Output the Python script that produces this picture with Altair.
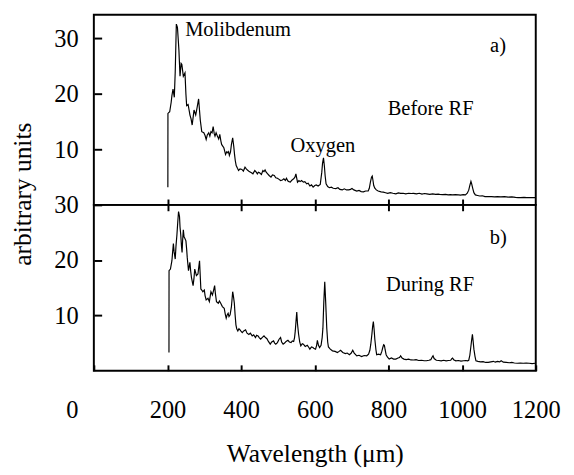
import altair as alt
import pandas as pd

# ---- data ----
xa = [201, 201.2, 206, 210, 212, 215, 218.5, 221, 224, 227, 229, 231, 234, 237, 239, 243, 247.5, 250, 252, 256,
      261, 264, 267, 270, 272, 276.6, 280, 284.5, 289, 293, 298.6, 302, 305, 308, 312, 315, 318, 321, 324, 327,
      329, 332, 335.5, 339, 342, 345, 347, 350, 353, 355, 357.6, 361, 364, 366, 368, 371, 373.6, 377, 380, 382,
      384, 386.5, 390, 393, 397, 402, 406, 410.5, 414, 417, 422, 428, 432, 437, 441, 444, 447, 450, 455, 459,
      462, 465, 468, 472, 476, 481, 485, 490, 494, 498.5, 503, 507, 512, 516, 520, 523, 527, 530, 533.7, 537,
      540, 542.6, 546, 548.7, 551, 553, 557, 560, 564, 569, 573, 578, 582, 586.6, 591, 595.4, 600, 604, 609, 614.8,
      619, 621, 623.6, 626, 628, 630.6, 635, 639.5, 645, 650, 657, 663, 668, 674.7, 680, 686, 692, 697, 701, 706,
      714, 720, 726, 732, 738, 745, 748, 751, 754, 756, 758, 760, 763, 767, 772, 780, 786, 792, 798, 805,
      812, 820, 827, 833, 840, 847, 855, 862, 868, 876, 884, 891, 898, 904, 912, 920, 928, 935, 939, 947,
      955, 962, 968, 974, 982, 990, 996, 1003, 1009, 1014, 1018, 1021, 1024, 1026, 1029, 1032, 1036, 1042, 1048, 1055,
      1062, 1071, 1080, 1088, 1096, 1105, 1115, 1125, 1135, 1145, 1152, 1159, 1168, 1176, 1185, 1192, 1199]
ya = [3.2, 16.5, 16.8, 18.5, 19.7, 20.9, 19.4, 24.0, 32.6, 32.0, 30.0, 27.9, 23.2, 25.5, 25.3, 23.2, 23.8, 20.0, 17.9, 18.1,
      16.2, 15.5, 14.4, 16.0, 17.1, 16.2, 17.4, 19.1, 15.3, 13.2, 13.0, 12.5, 11.8, 12.6, 13.0, 12.4, 13.2, 13.0, 14.1, 12.8,
      12.4, 13.0, 12.4, 11.9, 12.7, 11.5, 10.9, 10.6, 10.3, 9.8, 9.1, 9.6, 9.4, 9.6, 8.9, 9.5, 10.9, 12.1, 10.5, 9.1,
      8.0, 7.1, 6.6, 6.2, 6.5, 6.4, 6.1, 6.8, 6.5, 6.3, 6.0, 5.8, 5.6, 6.2, 5.9, 5.6, 5.9, 5.8, 5.5, 6.2,
      6.0, 6.3, 5.9, 5.6, 5.3, 5.0, 5.4, 5.3, 4.9, 4.8, 4.6, 4.4, 4.5, 4.7, 4.4, 4.8, 4.3, 4.2, 4.1, 4.4,
      4.6, 4.7, 5.0, 5.6, 4.8, 4.1, 4.4, 4.2, 4.4, 4.1, 4.2, 3.8, 3.9, 3.4, 3.6, 3.2, 3.5, 3.6, 3.4, 3.7,
      5.9, 7.5, 8.5, 7.0, 5.3, 3.8, 3.3, 3.1, 3.2, 3.0, 2.95, 3.1, 2.8, 2.7, 2.9, 2.7, 2.7, 2.8, 2.95, 2.7,
      2.5, 2.6, 2.4, 2.36, 2.5, 2.5, 3.0, 4.1, 5.0, 5.2, 4.4, 3.5, 3.0, 2.7, 2.5, 2.36, 2.3, 2.2, 2.07, 2.2,
      2.1, 2.0, 2.15, 2.07, 2.1, 2.0, 2.1, 2.05, 2.07, 2.0, 2.1, 1.95, 2.05, 2.0, 1.9, 2.0, 1.9, 1.95, 1.9, 1.85,
      1.9, 1.8, 1.85, 1.8, 1.85, 1.8, 1.75, 1.85, 1.8, 2.1, 2.66, 3.5, 4.25, 3.8, 2.95, 2.2, 1.8, 1.7, 1.6, 1.65,
      1.5, 1.48, 1.5, 1.45, 1.5, 1.45, 1.48, 1.4, 1.45, 1.35, 1.3, 1.3, 1.35, 1.3, 1.3, 1.32, 1.3]

xb = [204, 204.2, 208, 212, 214, 216, 218, 221, 223, 225.6, 228, 230, 232.6, 234, 236, 238, 239.6, 241, 243, 245,
      246.7, 250, 252, 253.6, 257, 260.8, 263, 265, 269.5, 272, 274, 278.5, 282.7, 287, 290.6, 293, 296, 300, 302, 305,
      310, 313.6, 316, 318, 322, 325, 328, 330, 333, 338, 341, 344.5, 349, 354, 357, 359.4, 362, 364.6, 367, 370,
      373.6, 377, 379, 381.5, 383.5, 385.8, 388, 391, 394, 397, 400, 403, 407, 412, 416, 421, 425, 430, 434, 439,
      442, 446, 449, 453, 457, 462, 466, 470, 474, 479, 483, 488, 491, 494, 498.5, 503, 507, 510, 514, 518,
      522, 527, 531, 535.5, 539, 542.6, 545, 547, 549, 551, 553, 556, 559, 562, 566, 569, 574, 579.6, 583, 586.6,
      591, 595, 598, 602, 605, 607, 610, 613, 617, 620, 622, 624.5, 627, 629.5, 632.5, 635, 637, 642, 648, 655,
      661.5, 666, 670, 676, 683, 688, 694, 699, 703, 707, 714, 720, 727, 734, 741, 746, 749.5, 752, 755, 757,
      759, 761, 763, 766, 768, 773, 778.6, 782, 784.6, 787, 789, 791, 793.7, 797, 802, 808, 814, 820, 826, 830,
      833, 837, 842, 848, 855, 861, 868, 875, 882, 890, 897, 903, 910, 915, 918, 921, 924, 930, 937, 943,
      950, 956.5, 963, 969, 972, 974, 977, 983, 990, 997, 1004, 1010, 1015, 1018, 1021, 1023.5, 1026, 1028, 1030, 1032,
      1035, 1037.6, 1043, 1050, 1057, 1064, 1071, 1078, 1085, 1090, 1096, 1102, 1106, 1112, 1120, 1128, 1135, 1142, 1150, 1158,
      1166, 1174, 1182, 1190, 1199]
yb = [3.3, 18.1, 18.4, 19.9, 21.5, 23.0, 21.5, 20.2, 22.5, 24.6, 27.0, 28.8, 27.9, 26.0, 24.6, 22.5, 21.4, 23.5, 25.5, 24.2,
      24.0, 23.5, 22.0, 20.5, 18.1, 19.6, 18.0, 16.9, 15.4, 16.8, 18.4, 17.2, 17.5, 19.9, 14.8, 14.6, 14.3, 14.6, 13.6, 12.8,
      13.1, 12.5, 13.5, 14.3, 13.7, 14.5, 15.4, 14.0, 12.5, 12.2, 12.6, 12.2, 11.6, 11.3, 10.2, 9.5, 10.1, 10.4, 9.8, 10.1,
      11.6, 14.3, 13.5, 12.2, 10.2, 8.3, 7.6, 7.2, 7.6, 7.4, 7.1, 6.9, 7.2, 7.4, 6.8, 6.55, 6.8, 6.3, 6.5, 6.0,
      6.4, 6.3, 6.0, 5.7, 6.0, 6.3, 6.0, 5.8, 5.3, 4.8, 5.2, 5.4, 5.0, 4.8, 5.1, 5.7, 6.0, 5.2, 4.8, 5.0,
      5.3, 5.5, 5.2, 5.1, 5.4, 5.3, 6.0, 7.2, 9.0, 10.6, 8.5, 6.6, 5.2, 4.5, 4.9, 4.8, 4.4, 4.6, 4.3, 3.9,
      4.3, 4.2, 4.0, 3.9, 4.6, 5.5, 4.6, 4.2, 4.6, 6.0, 7.7, 12.5, 16.1, 12.5, 7.7, 5.2, 4.3, 3.9, 3.6, 3.5,
      3.3, 3.5, 3.7, 3.3, 3.1, 3.2, 2.9, 3.2, 3.7, 3.2, 2.7, 2.8, 2.55, 2.75, 2.7, 3.0, 3.7, 4.8, 6.6, 8.0,
      8.9, 7.5, 5.7, 3.8, 2.9, 3.0, 2.9, 3.5, 4.2, 4.7, 4.6, 3.8, 2.9, 2.5, 2.1, 2.3, 2.1, 2.1, 2.3, 2.4,
      2.7, 2.3, 2.1, 2.0, 2.1, 1.95, 1.94, 2.0, 1.85, 1.9, 1.8, 1.8, 1.9, 2.0, 2.4, 2.7, 2.2, 1.9, 1.85, 1.8,
      1.9, 1.8, 1.85, 1.9, 2.2, 2.3, 2.0, 1.8, 1.85, 1.75, 1.8, 1.85, 1.8, 1.9, 2.8, 4.2, 5.6, 6.6, 5.3, 3.9,
      2.6, 1.8, 1.7, 1.6, 1.65, 1.5, 1.5, 1.6, 1.7, 1.55, 1.7, 1.6, 1.8, 1.55, 1.5, 1.45, 1.5, 1.4, 1.35, 1.4,
      1.35, 1.4, 1.35, 1.3, 1.35]

x_tick_values = [0, 200, 400, 600, 800, 1000, 1200]
x_inner_ticks = [200, 400, 600, 800, 1000]
y_tick_values = [10, 20, 30]

ann_a_text = ["Molibdenum", "a)", "Before RF", "Oxygen"]
ann_a_x = [248, 1076, 798, 534]
ann_a_y = [30.5, 27.5, 16.2, 9.6]
ann_b_text = ["b)", "During RF"]
ann_b_x = [1075, 793]
ann_b_y = [23.0, 14.4]

# ---- chart ----
FONT = "Liberation Serif"
W = 453
HA, HB = 195, 170
xscale = alt.Scale(domain=[0, 1200], nice=False, zero=False)
ya_scale = alt.Scale(domain=[0, 34.3], nice=False, zero=False)
yb_scale = alt.Scale(domain=[0, 30], nice=False, zero=False)

dfa = pd.DataFrame({"x": xa, "y": ya, "i": list(range(len(xa)))})
dfb = pd.DataFrame({"x": xb, "y": yb, "i": list(range(len(xb)))})
da = pd.DataFrame({"x": ann_a_x, "y": ann_a_y, "t": ann_a_text})
db = pd.DataFrame({"x": ann_b_x, "y": ann_b_y, "t": ann_b_text})


def yaxis(**kw):
    return alt.Axis(values=y_tick_values, orient="left", offset=-8, tickSize=8, tickWidth=2,
                    tickColor="black", domain=False, grid=False, labelPadding=16,
                    labelFont=FONT, labelFontSize=25, labelColor="black",
                    labelOverlap=False, **kw)


def inner_xaxis(orient):
    return alt.Axis(values=x_inner_ticks, orient=orient, offset=-6, tickSize=6, tickWidth=2,
                    tickColor="black", domain=False, grid=False, labels=False, title=None)


ya_axis = yaxis(title="arbitrary units", titleX=-73.3, titleY=183.5, titleAngle=270,
                titleAlign="center", titleBaseline="alphabetic", titleFont=FONT,
                titleFontSize=26, titleFontWeight="normal", titleColor="black")
yb_axis = yaxis(title=None)
xa_axis = inner_xaxis("bottom")
xb_top_axis = inner_xaxis("top")
xb_axis = alt.Axis(values=x_tick_values, orient="bottom", offset=-6, tickSize=6, tickWidth=2,
                   tickColor="black", domain=False, grid=False, labelPadding=27.7, format="d",
                   labelFont=FONT, labelFontSize=25, labelColor="black",
                   labelFlush=False, labelOverlap=False,
                   labelOffset={"condition": {"test": "datum.value === 0", "value": -22.5},
                                "value": 0},
                   title="Wavelength (\u03bcm)", titleFont=FONT, titleFontSize=26,
                   titleFontWeight="normal", titleColor="black",
                   titleBaseline="alphabetic", titleY=98.7)

line_a = alt.Chart(dfa).mark_line(color="black", strokeWidth=1.2).encode(
    x=alt.X("x:Q", scale=xscale, axis=xa_axis),
    y=alt.Y("y:Q", scale=ya_scale, axis=ya_axis),
    order=alt.Order("i:Q"),
)
text_a = alt.Chart(da).mark_text(font=FONT, fontSize=21, align="left", baseline="alphabetic",
                                 color="black").encode(
    x=alt.X("x:Q", scale=xscale, axis=xa_axis),
    y=alt.Y("y:Q", scale=ya_scale, axis=ya_axis),
    text="t:N",
)
top = alt.layer(line_a, text_a).properties(width=W, height=HA)

line_b = alt.Chart(dfb).mark_line(color="black", strokeWidth=1.2).encode(
    x=alt.X("x:Q", scale=xscale, axis=xb_axis),
    y=alt.Y("y:Q", scale=yb_scale, axis=yb_axis),
    order=alt.Order("i:Q"),
)
text_b = alt.Chart(db).mark_text(font=FONT, fontSize=21, align="left", baseline="alphabetic",
                                 color="black").encode(
    x=alt.X("x:Q", scale=xscale, axis=xb_top_axis),
    y=alt.Y("y:Q", scale=yb_scale, axis=yb_axis),
    text="t:N",
)
bottom = alt.layer(line_b, text_b).resolve_axis(x="independent").properties(width=W, height=HB)

chart = alt.vconcat(top, bottom, spacing=0, bounds="flush").properties(
    padding={"left": 0, "top": 0, "right": 5, "bottom": 0}
).configure(font=FONT).configure_view(stroke="black", strokeWidth=2)

chart.save("out.html", embed_options={"renderer": "svg", "actions": False})
